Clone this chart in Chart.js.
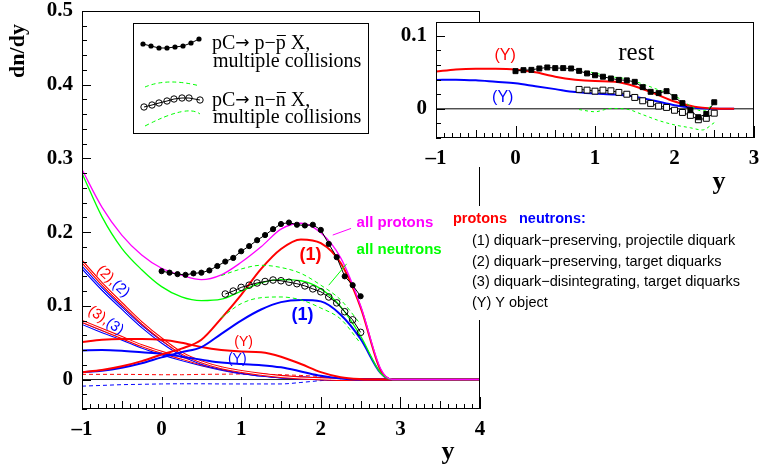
<!DOCTYPE html>
<html>
<head>
<meta charset="utf-8">
<script src="https://cdn.jsdelivr.net/npm/chart.js@4.4.1/dist/chart.umd.min.js"></script>
<style>
  body { margin: 0; background: #fff; }
  #wrap { position: relative; width: 759px; height: 468px; }
  #main { position: absolute; left: 0; top: 0; }
  #rest { position: absolute; left: 396px; top: 0; }
</style>
</head>
<body>
<div id="wrap">
  <canvas id="main" width="759" height="468"></canvas>
  <canvas id="rest" width="363" height="200"></canvas>
</div>
<script>
const SERIF = '"Liberation Serif", "Times New Roman", serif';
const SANS = '"Liberation Sans", Arial, sans-serif';
const RED = '#ff0000', BLUE = '#0000ff', MAGENTA = '#ff00ff', GREEN = '#00ff00';

// --- model curves, rapidity grid ---
const Y_GRID      = [-1, -0.75, -0.5, -0.25, 0, 0.25, 0.5, 0.75, 1, 1.25, 1.5, 1.75, 2, 2.25, 2.5, 2.75, 2.9, 4];
const ALL_PROTONS = [0.285, 0.234, 0.196, 0.169, 0.151, 0.1415, 0.1355, 0.142, 0.159, 0.180, 0.204, 0.212, 0.199, 0.165, 0.100, 0.015, 0, 0];
const ALL_NEUTRONS= [0.280, 0.221, 0.178, 0.149, 0.126, 0.112, 0.107, 0.109, 0.120, 0.131, 0.1355, 0.134, 0.123, 0.099, 0.059, 0.009, 0, 0];
const P_PROJ      = [0.010, 0.013, 0.018, 0.025, 0.034, 0.042, 0.054, 0.083, 0.115, 0.150, 0.177, 0.190, 0.185, 0.158, 0.098, 0.013, 0, 0];
const N_PROJ      = [0.010, 0.012, 0.016, 0.022, 0.030, 0.037, 0.044, 0.062, 0.080, 0.095, 0.105, 0.108, 0.106, 0.088, 0.055, 0.009, 0, 0];
const P_TARGET    = [0.160, 0.130, 0.103, 0.077, 0.055, 0.036, 0.024, 0.016, 0.011, 0.007, 0.004, 0.002, 0.001, 0, 0, 0, 0, 0];
const N_TARGET    = [0.152, 0.123, 0.097, 0.072, 0.051, 0.034, 0.022, 0.015, 0.010, 0.006, 0.0035, 0.002, 0.001, 0, 0, 0, 0, 0];
const P_DISINT    = [0.079, 0.068, 0.057, 0.046, 0.037, 0.029, 0.021, 0.015, 0.010, 0.0065, 0.004, 0.002, 0.001, 0, 0, 0, 0, 0];
const N_DISINT    = [0.076, 0.065, 0.055, 0.044, 0.035, 0.027, 0.020, 0.014, 0.009, 0.006, 0.0035, 0.002, 0.001, 0, 0, 0, 0, 0];
const P_YOBJ      = [0.051, 0.054, 0.055, 0.055, 0.054, 0.050, 0.044, 0.040, 0.038, 0.037, 0.031, 0.021, 0.010, 0.003, 0.0005, 0, 0, 0];
const N_YOBJ      = [0.0395, 0.040, 0.039, 0.037, 0.035, 0.031, 0.027, 0.023, 0.021, 0.0195, 0.0165, 0.011, 0.005, 0.0015, 0, 0, 0, 0];
const P_REST      = [0.007, 0.007, 0.007, 0.0068, 0.0065, 0.0065, 0.007, 0.0072, 0.0075, 0.0072, 0.0065, 0.0055, 0.004, 0.0015, 0, 0, 0, 0];
const N_REST      = [-0.009, -0.008, -0.007, -0.0065, -0.006, -0.0058, -0.0058, -0.006, -0.006, -0.006, -0.006, -0.004, -0.0015, 0, 0, 0, 0, 0];

// --- multiple-collision points ---
const PP_X    = [0, 0.1, 0.2, 0.3, 0.4, 0.5, 0.6, 0.7, 0.8, 0.9, 1.0, 1.1, 1.2, 1.3, 1.4, 1.5, 1.6, 1.7, 1.8, 1.9, 2.0, 2.1, 2.2, 2.3, 2.4, 2.5];
const PP_DATA = [0.147, 0.145, 0.143, 0.142, 0.144, 0.145, 0.148, 0.154, 0.160, 0.165, 0.174, 0.181, 0.189, 0.196, 0.204, 0.211, 0.213, 0.210, 0.209, 0.210, 0.203, 0.184, 0.166, 0.140, 0.128, 0.113];
const NN_X    = [0.8, 0.9, 1.0, 1.1, 1.2, 1.3, 1.4, 1.5, 1.6, 1.7, 1.8, 1.9, 2.0, 2.1, 2.2, 2.3, 2.4, 2.5];
const NN_DATA = [0.116, 0.120, 0.125, 0.128, 0.131, 0.133, 0.135, 0.134, 0.132, 0.130, 0.127, 0.123, 0.119, 0.112, 0.104, 0.092, 0.081, 0.064];
const BAND_X  = [0.75, 1, 1.25, 1.5, 1.75, 2, 2.25, 2.5];
const NN_UP   = [0.141, 0.150, 0.155, 0.152, 0.144, 0.128, 0.108, 0.075];
const NN_LO   = [0.084, 0.103, 0.111, 0.112, 0.108, 0.097, 0.082, 0.049];

// --- "rest" panel ---
const PP_REST = [0.0516, 0.053, 0.0534, 0.0553, 0.0567, 0.0558, 0.0558, 0.0553, 0.052, 0.0485, 0.046, 0.044, 0.0416, 0.0397, 0.039, 0.037, 0.0297, 0.0233, 0.0215, 0.0242, 0.016, 0.0078, -0.002, -0.0115, -0.007, 0.009];
const NN_REST_PTS = [0.0266, 0.0256, 0.0242, 0.0256, 0.0247, 0.0225, 0.020, 0.0156, 0.011, 0.0074, 0.0037, 0.0019, -0.002, -0.005, -0.009, -0.015, -0.013, -0.006];
const REST_BAND_X = [0.8, 1.0, 1.2, 1.4, 1.6, 1.8, 2.0, 2.2, 2.35, 2.5];
const REST_UP = [0.053, 0.049, 0.044, 0.041, 0.034, 0.026, 0.018, 0.004, -0.003, 0.007];
const REST_LO = [-0.001, -0.004, 0.0005, -0.0005, -0.008, -0.016, -0.022, -0.026, -0.029, -0.019];

const ZERO_X = [-1, 4], ZERO_Y = [0, 0];
const X_TICKS = [-1, 0, 1, 2, 3, 4];
const Y_TICKS = [0, 0.1, 0.2, 0.3, 0.4, 0.5];
const REST_X_TICKS = [-1, 0, 1, 2, 3];
const REST_Y_TICKS = [0, 0.1];

const pts = (xs, ys) => ys.map((v, i) => ({ x: xs[i], y: v }));

function model(xs, ys, color, width, dash) {
  return { data: pts(xs, ys), borderColor: color, borderWidth: width, borderDash: dash || [],
           pointRadius: 0, cubicInterpolationMode: 'monotone', fill: false };
}
function measured(xs, ys, style, radius, fillColor) {
  return { data: pts(xs, ys), borderColor: '#000', borderWidth: 1, tension: 0, fill: false,
           pointStyle: style, pointRadius: radius, pointBorderColor: '#000', pointBorderWidth: 1,
           pointBackgroundColor: fillColor };
}
// thin double line: white core over a wider coloured stroke
const hollow = (xs, ys, color) => [model(xs, ys, '#fff', 1), model(xs, ys, color, 3)];

const fmtX = v => v < 0 ? '\u2013' + (-v) : String(v);
const fmtY = v => v === 0 ? '0' : String(+v.toFixed(1));

function axes(xMin, xMax, yMin, yMax, xTicks, yTicks, yWidth, xHeight) {
  const tickFont = { family: SERIF, size: 21, weight: 'bold' };
  return {
    x: { type: 'linear', min: xMin, max: xMax,
         grid: { display: false, drawTicks: false }, border: { display: false },
         afterBuildTicks: s => { s.ticks = xTicks.map(v => ({ value: v })); },
         afterFit: s => { s.height = xHeight; s.paddingLeft = 0; s.paddingRight = 0; },
         ticks: { font: tickFont, color: '#000', padding: 8, maxRotation: 0, autoSkip: false, callback: fmtX } },
    y: { type: 'linear', min: yMin, max: yMax,
         grid: { display: false, drawTicks: false }, border: { display: false },
         afterBuildTicks: s => { s.ticks = yTicks.map(v => ({ value: v })); },
         afterFit: s => { s.width = yWidth; s.paddingTop = 0; s.paddingBottom = 0; },
         ticks: { font: tickFont, color: '#000', padding: 9, autoSkip: false, callback: fmtY } }
  };
}

// frame and inward ROOT-style ticks
function frameAndTicks(chart) {
  const { ctx, chartArea: a, scales: { x, y } } = chart;
  ctx.save();
  ctx.strokeStyle = '#000';
  ctx.lineWidth = 1;
  ctx.strokeRect(Math.round(a.left) + 0.5, Math.round(a.top) + 0.5,
                 Math.round(a.right - a.left) - 1, Math.round(a.bottom - a.top) - 1);
  ctx.beginPath();
  for (let i = Math.ceil(x.min * 10); i <= Math.floor(x.max * 10); i++) {
    const px = Math.round(x.getPixelForValue(i / 10)) + 0.5;
    const len = i % 10 === 0 ? 12 : (i % 5 === 0 ? 8 : 5);
    ctx.moveTo(px, a.bottom); ctx.lineTo(px, a.bottom - len);
  }
  for (let i = Math.ceil(y.min / 0.02 - 1e-9); i <= Math.floor(y.max / 0.02 + 1e-9); i++) {
    const py = Math.round(y.getPixelForValue(i * 0.02)) + 0.5;
    const len = i % 5 === 0 ? 9 : 5;
    ctx.moveTo(a.left, py); ctx.lineTo(a.left + len, py);
  }
  ctx.stroke();
  ctx.restore();
}

function text(ctx, str, px, py, color, font, align) {
  ctx.fillStyle = color;
  ctx.font = font;
  ctx.textAlign = align || 'center';
  ctx.textBaseline = 'middle';
  ctx.fillText(str, px, py);
}

// coloured pair like "(2),(2)" laid along a tilted baseline
function tiltedPair(ctx, cx, cy, angle, first, second, font) {
  ctx.save();
  ctx.font = font;
  const w1 = ctx.measureText(first).width, w2 = ctx.measureText(second).width;
  ctx.translate(cx, cy);
  ctx.rotate(angle * Math.PI / 180);
  ctx.textBaseline = 'middle';
  ctx.textAlign = 'left';
  ctx.fillStyle = RED;  ctx.fillText(first, -(w1 + w2) / 2, 0);
  ctx.fillStyle = BLUE; ctx.fillText(second, -(w1 + w2) / 2 + w1, 0);
  ctx.restore();
}

// "pC→ p−p̄ X," with an overbar on the antiparticle
function reaction(ctx, px, py, particle) {
  ctx.save();
  ctx.fillStyle = '#000';
  ctx.textAlign = 'left';
  ctx.textBaseline = 'alphabetic';
  const serif = '20px ' + SERIF;
  ctx.font = serif;
  ctx.fillText('pC', px, py);
  let cx = px + ctx.measureText('pC').width;
  ctx.font = '17px "DejaVu Sans"';
  ctx.fillText('\u2192', cx, py - 1);
  cx += ctx.measureText('\u2192').width;
  ctx.font = serif;
  const head = ' ' + particle + '\u2212';
  ctx.fillText(head, cx, py);
  cx += ctx.measureText(head).width;
  const wp = ctx.measureText(particle).width;
  ctx.fillText(particle, cx, py);
  ctx.fillRect(cx + 1, py - 14, wp - 1, 1);
  ctx.fillText(' X,', cx + wp, py);
  ctx.restore();
}

function arcDashed(ctx, x0, y0, xm, ym, x1, y1) {
  ctx.save();
  ctx.strokeStyle = GREEN;
  ctx.lineWidth = 1;
  ctx.setLineDash([4, 3]);
  ctx.beginPath();
  ctx.moveTo(x0, y0);
  ctx.quadraticCurveTo(2 * xm - (x0 + x1) / 2, 2 * ym - (y0 + y1) / 2, x1, y1);
  ctx.stroke();
  ctx.restore();
}

const mainDecor = {
  id: 'mainDecor',
  afterDraw(chart) {
    const { ctx, chartArea: a, scales: { x, y } } = chart;
    frameAndTicks(chart);
    const X = v => x.getPixelForValue(v), Y = v => y.getPixelForValue(v);

    ctx.save();
    // axis titles
    text(ctx, 'y', a.right - 32, a.bottom + 43, '#000', 'bold 26px ' + SERIF);
    ctx.save();
    ctx.translate(18, a.top + 40);
    ctx.rotate(-Math.PI / 2);
    text(ctx, 'dn/dy', 0, 0, '#000', 'bold 22px ' + SERIF);
    ctx.restore();

    // curve labels
    ctx.strokeStyle = MAGENTA; ctx.lineWidth = 1;
    ctx.beginPath(); ctx.moveTo(X(2.15), Y(0.196)); ctx.lineTo(X(2.38), Y(0.205)); ctx.stroke();
    ctx.strokeStyle = GREEN;
    ctx.beginPath(); ctx.moveTo(X(2.10), Y(0.128)); ctx.lineTo(X(2.325), Y(0.157)); ctx.stroke();
    text(ctx, 'all protons', X(2.45), Y(0.212), MAGENTA, 'bold 15px ' + SANS, 'left');
    text(ctx, 'all neutrons', X(2.45), Y(0.1755), GREEN, 'bold 15px ' + SANS, 'left');
    text(ctx, '(1)', X(1.87), Y(0.169), RED, 'bold 18px ' + SANS);
    text(ctx, '(1)', X(1.77), Y(0.087), BLUE, 'bold 18px ' + SANS);
    text(ctx, '(Y)', X(1.03), Y(0.051), RED, '14px ' + SANS);
    text(ctx, '(Y)', X(0.95), Y(0.027), BLUE, '14px ' + SANS);
    tiltedPair(ctx, X(-0.61), Y(0.133), 43, '(2),', '(2)', '14.5px ' + SANS);
    tiltedPair(ctx, X(-0.70), Y(0.080), 34, '(3),', '(3)', '14.5px ' + SANS);

    // legend box
    const lx = 133, ly = 23;
    ctx.fillStyle = '#fff';
    ctx.fillRect(lx, ly, 235, 110);
    ctx.strokeStyle = '#000'; ctx.lineWidth = 1;
    ctx.strokeRect(lx + 0.5, ly + 0.5, 235, 110);
    const dots = [[10, 21], [18, 23], [26, 25], [34, 25], [42, 24], [50, 23], [58, 20], [66, 16]];
    const rings = [[11, 84], [19, 82], [26, 80], [34, 78], [41, 76], [49, 75], [56, 75], [67, 77]];
    ctx.beginPath();
    dots.forEach(([dx, dy], i) => i ? ctx.lineTo(lx + dx, ly + dy) : ctx.moveTo(lx + dx, ly + dy));
    ctx.stroke();
    ctx.fillStyle = '#000';
    dots.forEach(([dx, dy]) => { ctx.beginPath(); ctx.arc(lx + dx, ly + dy, 2.6, 0, 2 * Math.PI); ctx.fill(); });
    arcDashed(ctx, lx + 12, ly + 64, lx + 37, ly + 59, lx + 67, ly + 63);
    arcDashed(ctx, lx + 12, ly + 103, lx + 47, ly + 89, lx + 67, ly + 91);
    ctx.beginPath();
    rings.forEach(([dx, dy], i) => i ? ctx.lineTo(lx + dx, ly + dy) : ctx.moveTo(lx + dx, ly + dy));
    ctx.stroke();
    rings.forEach(([dx, dy]) => { ctx.beginPath(); ctx.arc(lx + dx, ly + dy, 3.2, 0, 2 * Math.PI); ctx.stroke(); });
    reaction(ctx, 212, 49, 'p');
    reaction(ctx, 212, 106, 'n');
    ctx.fillStyle = '#000';
    ctx.font = '20px ' + SERIF; ctx.textAlign = 'left'; ctx.textBaseline = 'alphabetic';
    ctx.fillText('multiple collisions', 213, 67);
    ctx.fillText('multiple collisions', 213, 123);

    // component key
    ctx.fillStyle = '#fff';
    ctx.fillRect(450, 206, 309, 114);
    text(ctx, 'protons', 453, 219, RED, 'bold 14.5px ' + SANS, 'left');
    text(ctx, 'neutrons:', 519, 219, BLUE, 'bold 14.5px ' + SANS, 'left');
    const f = '14.5px ' + SANS;
    text(ctx, '(1) diquark\u2212preserving, projectile diquark', 472, 241, '#000', f, 'left');
    text(ctx, '(2) diquark\u2212preserving, target diquarks', 472, 262, '#000', f, 'left');
    text(ctx, '(3) diquark\u2212disintegrating, target diquarks', 472, 282, '#000', f, 'left');
    text(ctx, '(Y) Y object', 472, 303, '#000', f, 'left');
    ctx.restore();
  }
};

new Chart(document.getElementById('main'), {
  type: 'line',
  data: {
    datasets: [
      measured(PP_X, PP_DATA, 'circle', 2.6, '#000'),
      measured(NN_X, NN_DATA, 'circle', 3.3, 'rgba(255,255,255,0)'),
      model(BAND_X, NN_UP, GREEN, 1, [4, 3]),
      model(BAND_X, NN_LO, GREEN, 1, [4, 3]),
      model(Y_GRID, ALL_PROTONS, MAGENTA, 1.3),
      model(Y_GRID, ALL_NEUTRONS, GREEN, 1.3),
      model(Y_GRID, P_PROJ, RED, 2),
      model(Y_GRID, N_PROJ, BLUE, 2),
      model(Y_GRID, P_YOBJ, RED, 2),
      model(Y_GRID, N_YOBJ, BLUE, 2),
      ...hollow(Y_GRID, P_TARGET, RED),
      ...hollow(Y_GRID, N_TARGET, BLUE),
      ...hollow(Y_GRID, P_DISINT, RED),
      ...hollow(Y_GRID, N_DISINT, BLUE),
      model(Y_GRID, P_REST, RED, 1, [4, 3]),
      model(Y_GRID, N_REST, BLUE, 1, [4, 3]),
      model(ZERO_X, ZERO_Y, '#222', 1)
    ]
  },
  options: {
    responsive: false, devicePixelRatio: 1, animation: false, events: [],
    layout: { autoPadding: false, padding: { top: 11, right: 279, left: 0, bottom: 0 } },
    plugins: { legend: { display: false }, tooltip: { enabled: false } },
    scales: axes(-1, 4, -0.04, 0.5, X_TICKS, Y_TICKS, 82, 59)
  },
  plugins: [mainDecor]
});

// --- inset: remainder ("rest") ---
const restDecor = {
  id: 'restDecor',
  beforeDraw(chart) {
    const { ctx } = chart;
    ctx.save();
    ctx.fillStyle = '#fff';
    ctx.fillRect(0, 22, chart.width, 145);
    ctx.restore();
  },
  afterDraw(chart) {
    const { ctx, chartArea: a, scales: { x, y } } = chart;
    frameAndTicks(chart);
    ctx.save();
    text(ctx, 'y', a.right - 35, a.bottom + 44, '#000', 'bold 26px ' + SERIF);
    text(ctx, 'rest', x.getPixelForValue(1.52), y.getPixelForValue(0.076), '#000', '25px ' + SERIF);
    text(ctx, '(Y)', x.getPixelForValue(-0.13), y.getPixelForValue(0.0735), RED, '16px ' + SANS);
    text(ctx, '(Y)', x.getPixelForValue(-0.16), y.getPixelForValue(0.016), BLUE, '16px ' + SANS);
    ctx.restore();
  }
};

new Chart(document.getElementById('rest'), {
  type: 'line',
  data: {
    datasets: [
      measured(PP_X, PP_REST, 'rect', 3.5, '#000'),
      measured(NN_X, NN_REST_PTS, 'rect', 4.2, '#fff'),
      model(REST_BAND_X, REST_UP, GREEN, 1, [3, 3]),
      model(REST_BAND_X, REST_LO, GREEN, 1, [3, 3]),
      model(Y_GRID.slice(0, 16), P_YOBJ.slice(0, 16), RED, 2),
      model(Y_GRID.slice(0, 16), N_YOBJ.slice(0, 16), BLUE, 2),
      model(ZERO_X, ZERO_Y, '#000', 1)
    ]
  },
  options: {
    responsive: false, devicePixelRatio: 1, animation: false, events: [],
    layout: { autoPadding: false, padding: { top: 22, right: 5, left: 0, bottom: 0 } },
    plugins: { legend: { display: false }, tooltip: { enabled: false } },
    scales: axes(-1, 3, -0.04, 0.119, REST_X_TICKS, REST_Y_TICKS, 40, 62)
  },
  plugins: [restDecor]
});
</script>
</body>
</html>
